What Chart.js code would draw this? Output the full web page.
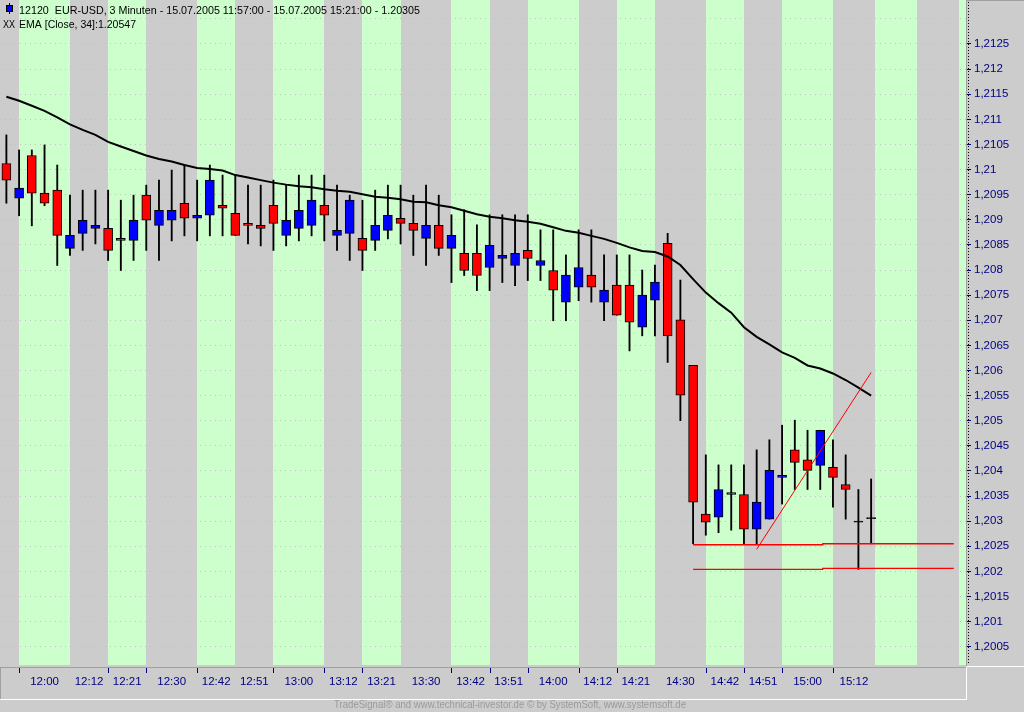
<!DOCTYPE html>
<html><head><meta charset="utf-8">
<script src="https://cdn.jsdelivr.net/npm/chart.js@4/dist/chart.umd.min.js"></script>
<style>html,body{margin:0;padding:0;background:#cccccc;overflow:hidden}canvas{display:block}</style>
</head><body>
<canvas id="c" width="1024" height="712"></canvas>
<script>
// ---- data (3-minute candles, index 0 = 11:57, index 68 = 15:21) ----
const openP = [1.21012,1.20943,1.21028,1.20953,1.20959,1.20843,1.20873,1.20883,1.20883,1.20863,
1.20859,1.20949,1.20889,1.20899,1.20933,1.20903,1.20909,1.20929,1.20913,1.20893,
1.20889,1.20929,1.20869,1.20883,1.20889,1.20929,1.20869,1.20873,1.20863,1.20859,
1.20879,1.20903,1.20893,1.20863,1.20889,1.20843,1.20833,1.20833,1.20805,1.20823,
1.20809,1.20839,1.20809,1.20799,1.20736,1.20766,1.20790,1.20736,1.20770,1.20770,
1.20686,1.20740,1.20853,1.20701,1.20610,1.20314,1.20308,1.20357,1.20353,1.20284,
1.20304,1.20387,1.20442,1.20422,1.20411,1.20407,1.20373,1.20298,1.20305];
const highP = [1.21069,1.21039,1.21039,1.21049,1.21009,1.20949,1.20959,1.20959,1.20959,1.20939,
1.20949,1.20969,1.20979,1.20999,1.21009,1.20979,1.21009,1.20989,1.20989,1.20969,
1.20969,1.20979,1.20969,1.20989,1.20989,1.20989,1.20969,1.20949,1.20939,1.20959,
1.20969,1.20969,1.20949,1.20969,1.20949,1.20910,1.20920,1.20890,1.20910,1.20910,
1.20910,1.20910,1.20880,1.20880,1.20830,1.20880,1.20880,1.20830,1.20830,1.20830,
1.20800,1.20810,1.20873,1.20780,1.20610,1.20432,1.20412,1.20412,1.20412,1.20442,
1.20462,1.20491,1.20501,1.20481,1.20481,1.20462,1.20432,1.20363,1.20384];
const lowP = [1.20933,1.20908,1.20888,1.20928,1.20809,1.20829,1.20839,1.20852,1.20819,1.20799,
1.20819,1.20839,1.20819,1.20858,1.20868,1.20858,1.20868,1.20868,1.20869,1.20852,
1.20848,1.20839,1.20848,1.20858,1.20868,1.20858,1.20839,1.20819,1.20799,1.20839,
1.20862,1.20852,1.20829,1.20809,1.20829,1.20775,1.20789,1.20759,1.20759,1.20775,
1.20769,1.20779,1.20779,1.20699,1.20699,1.20739,1.20736,1.20699,1.20710,1.20639,
1.20669,1.20669,1.20616,1.20500,1.20255,1.20272,1.20277,1.20282,1.20255,1.20255,
1.20304,1.20334,1.20363,1.20363,1.20363,1.20328,1.20304,1.20204,1.20255];
const closeP = [1.20979,1.20963,1.20953,1.20933,1.20869,1.20869,1.20899,1.20889,1.20839,1.20859,
1.20899,1.20899,1.20919,1.20919,1.20903,1.20909,1.20979,1.20923,1.20869,1.20889,
1.20883,1.20893,1.20899,1.20919,1.20939,1.20909,1.20879,1.20939,1.20839,1.20889,
1.20909,1.20893,1.20879,1.20889,1.20843,1.20869,1.20799,1.20789,1.20849,1.20829,
1.20833,1.20823,1.20819,1.20760,1.20790,1.20805,1.20766,1.20760,1.20710,1.20696,
1.20750,1.20776,1.20669,1.20551,1.20338,1.20298,1.20363,1.20353,1.20284,1.20338,
1.20401,1.20391,1.20417,1.20401,1.20481,1.20387,1.20363,1.20298,1.20305];
const emaP = [1.21145,1.21137,1.21127,1.21117,1.21104,1.21090,1.21079,1.21069,1.21055,1.21046,
1.21037,1.21028,1.21021,1.21016,1.21009,1.21003,1.21001,1.20998,1.20989,1.20984,
1.20979,1.20974,1.20970,1.20967,1.20965,1.20961,1.20958,1.20956,1.20951,1.20946,
1.20944,1.20941,1.20936,1.20935,1.20929,1.20925,1.20918,1.20911,1.20906,1.20903,
1.20899,1.20896,1.20892,1.20885,1.20878,1.20874,1.20868,1.20862,1.20854,1.20845,
1.20838,1.20836,1.20827,1.20810,1.20782,1.20755,1.20734,1.20715,1.20686,1.20667,
1.20652,1.20636,1.20625,1.20610,1.20604,1.20594,1.20581,1.20566,1.20550];

// drawn trend line and two support lines (x in candle-index units)
const trendX = [59, 68];
const trendY = [1.20244, 1.20596];
const supportX = [54, 64.2, 64.2, 74.5];
const supportHiY = [1.20253, 1.20253, 1.20255, 1.20255];
const supportLoY = [1.20204, 1.20204, 1.20206, 1.20206];

// time bands (alternating green/gray), labels and tick marks
const bandEdges = [1,5,8,11,15,18,21,25,28,31,35,38,41,45,48,51,55,58,61,65,68.3,71.6,74.9];
const timeLabels = ['12:00','12:12','12:21','12:30','12:42','12:51','13:00','13:12','13:21','13:30',
'13:42','13:51','14:00','14:12','14:21','14:30','14:42','14:51','15:00','15:12'];
const xTickMarks = [1,8,11,15,21,25,28,35,38,41,45,48,55,58,61,65];
const yTickValues = [1.2005,1.201,1.2015,1.202,1.2025,1.203,1.2035,1.204,1.2045,1.205,1.2055,1.206,
1.2065,1.207,1.2075,1.208,1.2085,1.209,1.2095,1.21,1.2105,1.211,1.2115,1.212,1.2125,1.213];
const yTickLabels = ['1,2005','1,201','1,2015','1,202','1,2025','1,203','1,2035','1,204','1,2045','1,205',
'1,2055','1,206','1,2065','1,207','1,2075','1,208','1,2085','1,209','1,2095','1,21','1,2105','1,211',
'1,2115','1,212','1,2125',''];
const titleText = '12120  EUR-USD, 3 Minuten - 15.07.2005 11:57:00 - 15.07.2005 15:21:00 - 1.20305';
const emaText = 'EMA [Close, 34]:1.20547';
const footerText = 'TradeSignal\u00AE and www.technical-investor.de \u00A9 by SystemSoft, www.systemsoft.de';

const X_MIN = -0.502, X_MAX = 75.54, Y_MIN = 1.200136, Y_MAX = 1.213376;
const GREEN = '#ccffcc', GRAY = '#cccccc', NAVY = '#000080';
const FONT = '"Liberation Sans", Arial, sans-serif';

// ---- build datasets ----
const idx = openP.map((_, i) => i);
const wickData = idx.map(i => ({x: i, y: [lowP[i], highP[i]]}));
const bodyData = idx.map(i => ({x: i, y: [openP[i], closeP[i]]}));
const bodyColors = idx.map(i => closeP[i] > openP[i] ? '#0000ff' : (closeP[i] < openP[i] ? '#ff0000' : '#000000'));
const emaData = idx.map(i => ({x: i, y: emaP[i]}));
const trendData = trendX.map((x, k) => ({x, y: trendY[k]}));
const supHiData = supportX.map((x, k) => ({x, y: supportHiY[k]}));
const supLoData = supportX.map((x, k) => ({x, y: supportLoY[k]}));
const labelPos = timeLabels.map((_, k) => (bandEdges[k] + bandEdges[k + 1]) / 2);

function fitText(ctx, text, x, y, width) {
  const w = ctx.measureText(text).width;
  const s = width / w;
  ctx.save();
  ctx.translate(x, y);
  ctx.scale(s, 1);
  ctx.fillText(text, 0, 0);
  ctx.restore();
}

const decor = {
  id: 'decor',
  beforeDraw(chart) {
    const {ctx, chartArea: a, scales: {x}} = chart;
    ctx.save();
    ctx.fillStyle = GRAY;
    ctx.fillRect(0, 0, chart.width, chart.height);
    ctx.fillStyle = GREEN;
    const edges = bandEdges.concat([X_MAX]);
    for (let k = 0; k + 1 < edges.length; k += 2) {
      const x0 = Math.round(x.getPixelForValue(edges[k]));
      const x1 = Math.min(Math.round(x.getPixelForValue(edges[k + 1])), Math.round(a.right) - 1);
      ctx.fillRect(x0, a.top, x1 - x0, a.bottom - a.top);
    }
    ctx.restore();
  },
  afterDraw(chart) {
    const {ctx, chartArea: a, scales: {x}} = chart;
    const R = Math.round(a.right), B = Math.round(a.bottom);
    ctx.save();
    // frames
    ctx.lineWidth = 1;
    ctx.strokeStyle = '#a0a0a0';
    ctx.beginPath();
    ctx.moveTo(R - 0.5, 0); ctx.lineTo(R - 0.5, B + 1);
    ctx.moveTo(0, B + 2.5); ctx.lineTo(R - 1, B + 2.5);
    ctx.moveTo(0.5, B + 2); ctx.lineTo(0.5, B + 34);
    ctx.moveTo(R, 0.5); ctx.lineTo(chart.width, 0.5);
    ctx.stroke();
    ctx.strokeStyle = '#ffffff';
    ctx.beginPath();
    ctx.moveTo(R, B + 1.5); ctx.lineTo(chart.width, B + 1.5);
    ctx.moveTo(R - 0.5, B + 2); ctx.lineTo(R - 0.5, B + 34.5);
    ctx.moveTo(0, B + 34.5); ctx.lineTo(R, B + 34.5);
    ctx.stroke();
    // dotted y axis line
    ctx.strokeStyle = '#000000';
    ctx.setLineDash([1, 2]);
    ctx.beginPath();
    ctx.moveTo(R + 1.5, 2); ctx.lineTo(R + 1.5, B);
    ctx.stroke();
    ctx.setLineDash([]);
    // x tick marks
    ctx.strokeStyle = NAVY;
    ctx.beginPath();
    xTickMarks.forEach(v => {
      const px = Math.round(x.getPixelForValue(v)) + 0.5;
      ctx.moveTo(px, B + 3); ctx.lineTo(px, B + 8);
    });
    ctx.stroke();
    // header icons + text
    ctx.strokeStyle = '#000000';
    ctx.beginPath(); ctx.moveTo(9.5, 3); ctx.lineTo(9.5, 14); ctx.stroke();
    ctx.fillStyle = '#0000ff';
    ctx.fillRect(6.5, 5.5, 6, 6);
    ctx.strokeRect(6.5, 5.5, 6, 6);
    ctx.fillStyle = '#000000';
    ctx.font = '11.5px ' + FONT;
    ctx.textBaseline = 'alphabetic';
    ctx.textAlign = 'left';
    fitText(ctx, titleText, 19, 14, 401);
    fitText(ctx, 'XX', 3, 28, 12);
    fitText(ctx, emaText, 19, 28, 117);
    // footer
    ctx.fillStyle = '#9a9a9a';
    ctx.font = '11px ' + FONT;
    ctx.textBaseline = 'middle';
    fitText(ctx, footerText, 334, 705, 352);
    ctx.restore();
  }
};

new Chart(document.getElementById('c'), {
  type: 'bar',
  data: {
    datasets: [
      {type: 'line', data: trendData, borderColor: '#ff0000', borderWidth: 1, pointRadius: 0, tension: 0, order: 0},
      {type: 'line', data: supHiData, borderColor: '#ff0000', borderWidth: 1.3, pointRadius: 0, tension: 0, order: 1},
      {type: 'line', data: supLoData, borderColor: '#ff0000', borderWidth: 1.3, pointRadius: 0, tension: 0, order: 1},
      {type: 'line', data: emaData, borderColor: '#000000', borderWidth: 2, pointRadius: 0, tension: 0, order: 2},
      {type: 'bar', data: bodyData, backgroundColor: bodyColors, borderColor: '#000000', borderWidth: 1,
       borderSkipped: false, barThickness: 9, minBarLength: 1, grouped: false, order: 3},
      {type: 'bar', data: wickData, backgroundColor: '#000000', borderWidth: 0,
       barThickness: 1.2, grouped: false, order: 4}
    ]
  },
  options: {
    responsive: false,
    devicePixelRatio: 1,
    animation: false,
    events: [],
    layout: {padding: {left: 0, right: 0, top: 0, bottom: 13}, autoPadding: false},
    plugins: {legend: {display: false}, tooltip: {enabled: false}, title: {display: false}},
    scales: {
      x: {
        type: 'linear', position: 'bottom', min: X_MIN, max: X_MAX, bounds: 'data', offset: false,
        afterFit(s) { s.height = 34; s.paddingLeft = 0; s.paddingRight = 0; },
        afterBuildTicks(s) { s.ticks = labelPos.map(v => ({value: v})); },
        grid: {display: false, drawTicks: false, offset: false},
        border: {display: false},
        ticks: {autoSkip: false, maxRotation: 0, minRotation: 0, color: NAVY, padding: 10,
          font: {family: FONT, size: 11.5},
          callback: (v, i) => timeLabels[i]}
      },
      y: {
        type: 'linear', position: 'right', min: Y_MIN, max: Y_MAX, bounds: 'data', beginAtZero: false,
        afterFit(s) { s.width = 57; s.paddingTop = 0; s.paddingBottom = 0; },
        afterBuildTicks(s) { s.ticks = yTickValues.map(v => ({value: v})); },
        grid: {color: '#c2c2c2', lineWidth: 1, drawTicks: true, tickLength: 4, tickWidth: 1,
          tickColor: c => (yTickLabels[c.index] ? NAVY : 'rgba(0,0,0,0)')},
        border: {display: false, dash: [1, 4]},
        ticks: {autoSkip: false, color: NAVY, padding: 3, font: {family: FONT, size: 11.5},
          callback: (v, i) => yTickLabels[i]}
      }
    }
  },
  plugins: [decor]
});
</script>
</body></html>
